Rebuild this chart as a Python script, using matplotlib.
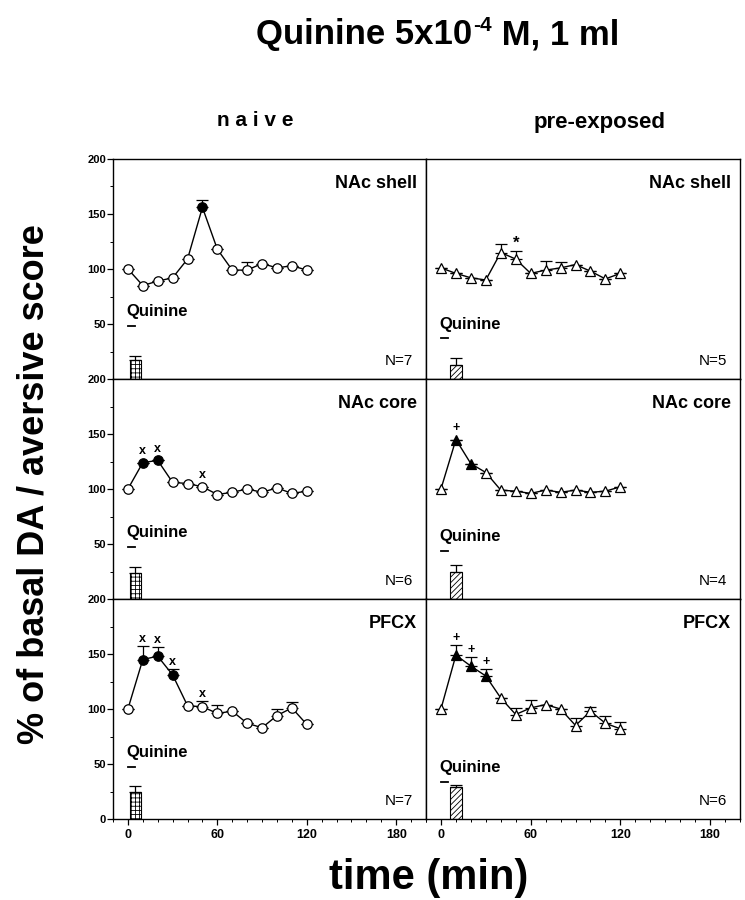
import numpy as np
import matplotlib
matplotlib.use("Agg")
import matplotlib.pyplot as plt
from matplotlib.ticker import MultipleLocator, FixedLocator

plt.rcParams["font.family"] = ["Liberation Sans", "DejaVu Sans"]
plt.rcParams["hatch.linewidth"] = 0.6

NARROW = ["Liberation Sans Narrow", "Liberation Sans", "DejaVu Sans"]

# tempo (min)
time = [0, 10, 20, 30, 40, 50, 60, 70, 80, 90, 100, 110, 120]

# naive
naive_shell = [100, 85, 89, 92, 109, 156, 118, 99, 99, 105, 101, 103, 99]
naive_shell_err = [0, 0, 0, 0, 0, 7, 0, 0, 7, 0, 0, 0, 0]
naive_core = [100, 124, 126, 106, 105, 102, 95, 97, 100, 97, 101, 96, 98]
naive_core_err = [0, 0, 0, 0, 0, 0, 0, 0, 0, 0, 0, 0, 0]
naive_pfcx = [100, 145, 148, 131, 103, 102, 96, 98, 87, 83, 94, 101, 86]
naive_pfcx_err = [0, 12, 8, 5, 0, 5, 8, 0, 0, 0, 6, 5, 0]

# pre-exposed
pre_shell = [101, 96, 92, 90, 115, 109, 96, 99, 101, 104, 98, 91, 96]
pre_shell_err = [0, 0, 0, 0, 8, 7, 0, 8, 5, 0, 0, 0, 0]
pre_core = [100, 145, 123, 115, 99, 98, 96, 99, 97, 99, 97, 98, 102]
pre_core_err = [0, 0, 0, 0, 0, 0, 0, 0, 0, 0, 0, 0, 0]
pre_pfcx = [100, 149, 139, 130, 110, 95, 101, 104, 100, 85, 98, 87, 82]
pre_pfcx_err = [0, 9, 8, 6, 0, 6, 7, 0, 0, 7, 4, 7, 6]

# pontos cheios (significativos) e simbolos acima
naive_shell_filled = [50]
naive_core_filled = [10, 20]
naive_pfcx_filled = [10, 20, 30]
pre_shell_filled = []
pre_core_filled = [10, 20]
pre_pfcx_filled = [10, 20, 30]
naive_shell_sig = []
naive_core_sig = [10, 20, 50]
naive_pfcx_sig = [10, 20, 30, 50]
pre_shell_sig = [50]
pre_core_sig = [10]
pre_pfcx_sig = [10, 20, 30]
sig_naive = ["x", "x", "x"]
sig_pre = ["*", "+", "+"]

# aversive score (barras)
naive_score = [17, 24, 25]
naive_score_err = [4, 5, 5]
pre_score = [13, 25, 29]
pre_score_err = [6, 6, 1.5]

regions = ["NAc shell", "NAc core", "PFCX"]
n_naive = ["N=7", "N=6", "N=7"]
n_pre = ["N=5", "N=4", "N=6"]

naive_data = [(naive_shell, naive_shell_err, naive_shell_filled, naive_shell_sig),
              (naive_core, naive_core_err, naive_core_filled, naive_core_sig),
              (naive_pfcx, naive_pfcx_err, naive_pfcx_filled, naive_pfcx_sig)]
pre_data = [(pre_shell, pre_shell_err, pre_shell_filled, pre_shell_sig),
            (pre_core, pre_core_err, pre_core_filled, pre_core_sig),
            (pre_pfcx, pre_pfcx_err, pre_pfcx_filled, pre_pfcx_sig)]

fig = plt.figure(figsize=(7.45, 9.0), dpi=100)

W, H = 745.0, 900.0
col_x = [113, 426]
col_w = [313, 314]
row_top = [159, 379, 599]
row_h = 220


def draw_panel(ax, vals, errs, filled, sig, marker, sigchar, bar, bar_err,
               hatch, bar_x, region, ntext, q_y, col, row):
    t = np.array(time)
    v = np.array(vals)
    e = np.array(errs)
    ax.errorbar(t, v, yerr=[np.zeros_like(e), e], fmt="none", ecolor="black",
                elinewidth=0.9, capsize=4, capthick=0.9, zorder=2)
    ax.plot(t, v, color="black", lw=1.0, zorder=3)
    is_f = np.isin(t, filled)
    ms = 6.8 if marker == "o" else 7.3
    ax.plot(t[~is_f], v[~is_f], marker, ms=ms, mfc="white", mec="black",
            mew=0.9, ls="none", zorder=4)
    ax.plot(t[is_f], v[is_f], marker, ms=ms, mfc="black", mec="black",
            mew=0.9, ls="none", zorder=4)
    for s in sig:
        i = time.index(s)
        top = vals[i] + (errs[i] if errs[i] > 0 else 4)
        ax.text(s, top + 1.0, sigchar, ha="center", va="bottom",
                fontsize=12 if sigchar == "*" else 9, fontweight="bold")
    ax.bar(bar_x, bar, width=7.5, color="white", edgecolor="black",
           hatch=hatch, lw=0.8, zorder=2)
    ax.errorbar(bar_x, bar, yerr=[[0], [bar_err]], fmt="none",
                ecolor="black", elinewidth=0.9, capsize=4, capthick=0.9)
    ax.text(0.97, 0.89, region, transform=ax.transAxes, ha="right",
            va="center", fontsize=13, fontweight="bold")
    ax.text(0.96, 0.08, ntext, transform=ax.transAxes, ha="right",
            va="center", fontsize=11)
    ax.text(-1, q_y, "Quinine", ha="left", va="center", fontsize=12,
            fontweight="bold")
    ax.plot([0, 5], [q_y - 13, q_y - 13], color="black", lw=1.3)

    ax.set_xlim(-10, 200)
    ax.set_ylim(0, 200)
    for sp in ax.spines.values():
        sp.set_linewidth(1.0)
    if col == 0:
        # o "0" das linhas de cima fica escondido atras do "200" de baixo
        major = [0, 50, 100, 150, 200] if row == 2 else [50, 100, 150, 200]
        ax.yaxis.set_major_locator(FixedLocator(major))
        ax.yaxis.set_minor_locator(MultipleLocator(25))
        ax.tick_params(axis="y", which="major", length=4, width=0.9,
                       labelsize=8, pad=1)
        ax.tick_params(axis="y", which="minor", length=2, width=0.7)
        for lb in ax.get_yticklabels():
            lb.set_fontfamily(NARROW)
            lb.set_fontweight("bold")
    else:
        ax.set_yticks([])
    if row == 2:
        ax.xaxis.set_major_locator(FixedLocator([0, 60, 120, 180]))
        ax.xaxis.set_minor_locator(MultipleLocator(10))
        ax.tick_params(axis="x", which="major", length=4, width=0.9,
                       labelsize=9, pad=3)
        ax.tick_params(axis="x", which="minor", length=2, width=0.7)
        for lb in ax.get_xticklabels():
            lb.set_fontfamily(NARROW)
            lb.set_fontweight("bold")
    else:
        ax.set_xticks([])


q_naive = [61, 60, 60]
q_pre = [50, 57, 47]

for row in range(3):
    for col in range(2):
        left = col_x[col] / W
        bottom = 1 - (row_top[row] + row_h) / H
        ax = fig.add_axes([left, bottom, col_w[col] / W, row_h / H])
        if col == 0:
            vals, errs, filled, sig = naive_data[row]
            draw_panel(ax, vals, errs, filled, sig, "o", sig_naive[row],
                       naive_score[row], naive_score_err[row], "++++", 5,
                       regions[row], n_naive[row], q_naive[row], col, row)
        else:
            vals, errs, filled, sig = pre_data[row]
            draw_panel(ax, vals, errs, filled, sig, "^", sig_pre[row],
                       pre_score[row], pre_score_err[row], "//////", 10,
                       regions[row], n_pre[row], q_pre[row], col, row)

# titulo em tres pedacos para o expoente "-4" ficar com hifen e negrito
bg = fig.add_axes([0, 0, 1, 1], zorder=-1)
bg.axis("off")
t1 = fig.text(0.343, 0.943, "Quinine 5x10", ha="left", va="bottom",
              fontsize=25, fontweight="bold", family=NARROW)
t2 = bg.annotate("-4", xy=(1, 0), xycoords=t1, xytext=(1, 12),
                 textcoords="offset points", ha="left", va="bottom",
                 fontsize=15, fontweight="bold", family=NARROW)
bg.annotate(" M, 1 ml", xy=(1, 0), xycoords=(t2, t1), xytext=(0, 0),
            textcoords="offset points", ha="left", va="bottom",
            fontsize=25, fontweight="bold", family=NARROW)

fig.text(0.342, 0.866, "n a i v e", ha="center", va="center", fontsize=15,
         fontweight="bold")
fig.text(0.805, 0.864, "pre-exposed", ha="center", va="center",
         fontsize=16, fontweight="bold")
fig.text(0.045, 0.462, "% of basal DA / aversive score", rotation=90,
         ha="center", va="center", fontsize=26, fontweight="bold")
fig.text(0.575, 0.025, "time (min)", ha="center", va="center", fontsize=30,
         fontweight="bold", family=NARROW)

fig.savefig("out.png", dpi=100)
